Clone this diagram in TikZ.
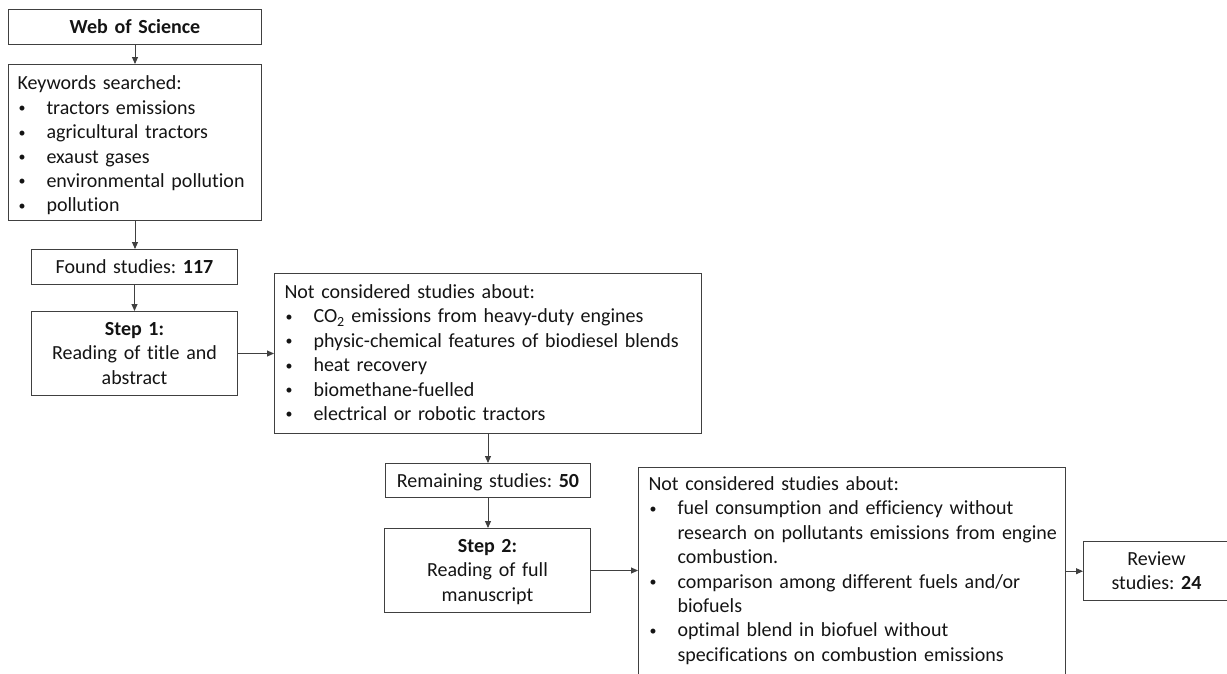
\documentclass[tikz,border=0pt]{standalone}
\usepackage{fontspec}
\setmainfont{Carlito}[Ligatures=NoCommon]
\usetikzlibrary{arrows.meta}
\frenchspacing
\newcommand\diafont{\fontsize{20}{24.4}\selectfont\frenchspacing}
\newcommand\tp[1]{\rule{0pt}{#1pt}}
\newcommand\bt[1]{\rule[-#1pt]{0pt}{0pt}}
\newcommand\bul{\makebox[29pt][l]{\hspace{1pt}\raisebox{1.6pt}{\fontsize{14}{14}\selectfont\textbullet}}}
\newcommand\cont{\hspace*{29pt}}
\begin{document}
\begin{tikzpicture}[x=1pt,y=-1pt,
  every node/.style={font=\diafont, text=black!92},
  box/.style={draw=black!75, line width=1pt, inner ysep=0pt, anchor=north west},
  cbox/.style={box, inner xsep=0pt, align=center},
  lbox/.style={box, align=left},
  arr/.style={draw=black!75, line width=0.9pt, -{Triangle[length=7pt,width=6pt]}}]
\useasboundingbox (0,0) rectangle (1227,673);
\clip (0,0) rectangle (1227,673);

\node[cbox, text width=253pt] (wos) at (8,9) {\tp{24.3}\textbf{Web of Science}\bt{10.7}};

\node[lbox, inner xsep=9pt, text width=235pt] (kw) at (8,64)
 {\tp{25.3}Keywords searched:\\
  \bul\mbox{tractors emissions}\\
  \bul\mbox{agricultural tractors}\\
  \bul\mbox{exaust gases}\\
  \bul\mbox{environmental pollution}\\
  \bul\mbox{pollution}\bt{9}};

\node[cbox, text width=206pt] (found) at (31,249) {\tp{24}Found studies: \textbf{117}\bt{11}};

\node[cbox, text width=206pt] (s1) at (31,311)
 {\tp{24}\textbf{Step 1:}\\Reading of title and\\abstract\bt{11.2}};

\node[lbox, inner xsep=10pt, text width=407pt] (nc1) at (274,273)
 {\tp{25}Not considered studies about:\\
  \bul\mbox{CO\textsubscript{2} emissions from heavy-duty engines}\\
  \bul\mbox{physic-chemical features of biodiesel blends}\\
  \bul\mbox{heat recovery}\\
  \bul\mbox{biomethane-fuelled}\\
  \bul\mbox{electrical or robotic tractors}\bt{13}};

\node[cbox, text width=205pt] (rem) at (385,463) {\tp{23.7}Remaining studies: \textbf{50}\bt{10.3}};

\node[cbox, text width=206pt] (s2) at (384,528)
 {\tp{23.7}\textbf{Step 2:}\\Reading of full\\manuscript\bt{11.5}};

\node[lbox, inner xsep=10pt, text width=407pt] (nc2) at (638,467)
 {\tp{23}Not considered studies about:\\
  \bul\mbox{fuel consumption and efficiency without}\\
  \cont\mbox{research on pollutants emissions from engine}\\
  \cont\mbox{combustion.}\\
  \bul\mbox{comparison among different fuels and/or}\\
  \cont\mbox{biofuels}\\
  \bul\mbox{optimal blend in biofuel without}\\
  \cont\mbox{specifications on combustion emissions}\bt{15}};

\node[cbox, text width=146pt] (rev) at (1083,541)
 {\tp{24}Review\\studies: \textbf{24}\bt{11}};

\draw[arr] (wos) -- (kw);
\draw[arr] (kw.south) -- (kw.south |- found.north);
\draw[arr] (found) -- (s1);
\draw[arr] (s1.east) -- (s1.east -| nc1.west);
\draw[arr] (rem.north |- nc1.south) -- (rem.north);
\draw[arr] (rem.south) -- (rem.south |- s2.north);
\draw[arr] (s2.east) -- (s2.east -| nc2.west);
\draw[arr] (nc2.east |- rev.west) -- (rev.west);
\end{tikzpicture}
\end{document}
